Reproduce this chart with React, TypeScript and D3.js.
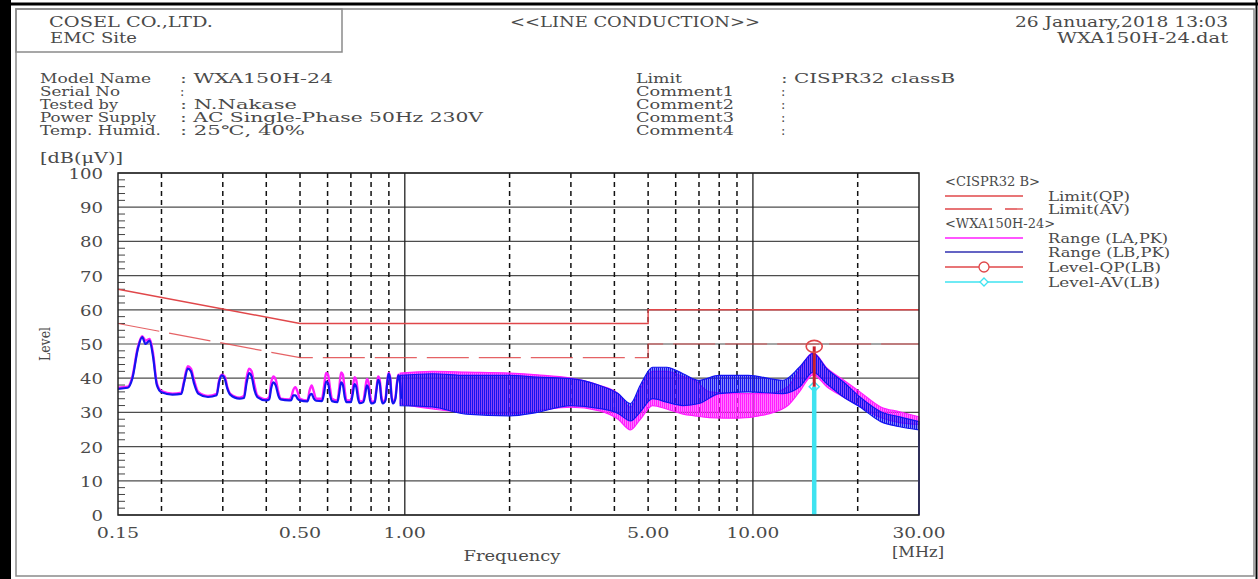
import * as d3 from "d3";

// axis ticks
const Y_TICKS = [0, 10, 20, 30, 40, 50, 60, 70, 80, 90, 100];
const X_TICK_VALUES = [0.15, 0.5, 1, 5, 10, 30];
const X_TICK_LABELS = ["0.15", "0.50", "1.00", "5.00", "10.00", "30.00"];
const DASHED_GRID = [0.2, 0.3, 0.4, 0.5, 0.6, 0.7, 0.8, 0.9, 2, 3, 4, 5, 6, 7, 8, 9, 20];
const SOLID_GRID = [1, 10];

// CISPR32 class B limits
const LIMIT_QP_F = [0.15, 0.5, 5, 5, 30];
const LIMIT_QP_V = [66, 56, 56, 60, 60];
const LIMIT_AV_F = [0.15, 0.5, 5, 5, 30];
const LIMIT_AV_V = [56, 46, 46, 50, 50];

// low band traces (harmonic bumps), shared frequency points
const TRACE_F = [
  0.15, 0.16, 0.165, 0.171, 0.176, 0.18, 0.185, 0.189, 0.194, 0.2, 0.215, 0.228,
  0.232, 0.238, 0.243, 0.248, 0.255,
  0.272, 0.288,
  0.293, 0.298, 0.304, 0.309, 0.315,
  0.335, 0.345,
  0.351, 0.357, 0.363, 0.37, 0.377,
  0.4, 0.408,
  0.413, 0.419, 0.426, 0.433, 0.44,
  0.465, 0.472,
  0.478, 0.485, 0.492, 0.5,
  0.525,
  0.533, 0.54, 0.548, 0.556,
  0.578, 0.586, 0.594, 0.602, 0.61, 0.618,
  0.64, 0.648, 0.656, 0.664, 0.672, 0.68,
  0.7, 0.709, 0.717, 0.725, 0.734, 0.742,
  0.76, 0.769, 0.778, 0.786, 0.795, 0.804,
  0.82, 0.829, 0.838, 0.847, 0.856, 0.865,
  0.88, 0.889, 0.898, 0.907, 0.916, 0.925,
  0.94, 0.949, 0.958, 0.967, 0.976,
];
const LB_TRACE_V = [
  36.9, 37.2, 40, 48.5, 52, 50, 51, 46.5, 38, 35.9, 35.2, 35.4,
  38.5, 42.8, 42, 38.5, 35.5,
  34.5, 35,
  39, 40.8, 39.8, 37, 35.2,
  34, 34.2,
  38.5, 41.5, 40.5, 36.5, 34.5,
  33.5, 33.8,
  37, 38.8, 37.8, 35, 33.8,
  33.5, 33.6,
  35, 35, 34, 33.5,
  33.2,
  35, 35.4, 34, 33.4,
  33.3, 35.5, 39, 38.5, 35, 33.3,
  33, 35.5, 38.8, 38, 34.5, 33,
  33, 35.5, 38.3, 37.5, 34, 32.7,
  33, 35, 37.9, 37, 33.5, 32.6,
  33, 36.5, 39.5, 38.5, 34, 32.6,
  33.5, 38, 41.3, 40, 34.5, 32.6,
  34, 38, 40.8, 39.5, 34,
];
const LA_TRACE_V = [
  37.2, 37.5, 40.5, 49, 52.3, 51, 51.5, 47.5, 38.5, 36.2, 35.5, 35.8,
  39, 43.5, 42.8, 39.5, 36,
  34.8, 35.4,
  39.5, 41, 40.5, 37.5, 35.5,
  34.3, 34.8,
  40, 42.8, 42, 38, 35,
  33.8, 34.5,
  38.5, 40.5, 39.5, 36, 34,
  33.8, 34.5,
  36.5, 37.4, 36, 34,
  33.5,
  36.5, 37.9, 36, 34,
  34, 37.5, 41.5, 41, 37, 34,
  33.5, 37, 41.7, 41, 36.5, 33.5,
  33.5, 37, 40.3, 39.5, 35.5, 33.2,
  33.5, 36.5, 39.8, 39, 35, 33,
  33.5, 37, 40.5, 39.5, 35, 33,
  34, 38.5, 41.5, 40.5, 35, 33,
  34.5, 38.5, 41, 40, 34.5,
];

// high band noise envelopes (lower / upper)
const LB_BAND_F = [0.97, 1.2, 1.5, 2.0, 2.4, 3.0, 3.6, 4.1, 4.45, 4.75, 5.15, 5.65, 6.3, 7.0, 8.0, 9.7, 12.2, 13.6, 14.9, 16.3, 18.2, 20.3, 23.3, 26.4, 30];
const LB_BAND_LO = [32, 31.6, 29.5, 29, 30, 32, 31.2, 29.7, 27.5, 30.2, 34, 33, 32, 32.6, 35.5, 36, 35.5, 37.4, 41.8, 38.4, 34.5, 31.6, 27.3, 25.8, 24.9];
const LB_BAND_HI = [40.8, 41.3, 40.8, 40.8, 40.3, 39.9, 38, 35.5, 32.6, 38, 43.2, 43.2, 41.3, 39.4, 40.8, 40.8, 39.4, 43.2, 47.3, 42.8, 38.9, 34.5, 30.2, 28.7, 27.3];
const LA_BAND_F = [0.97, 1.2, 1.5, 2.0, 2.4, 3.0, 3.6, 4.1, 4.45, 4.75, 5.15, 5.65, 6.3, 6.8, 7.5, 9.0, 11.0, 12.6, 13.6, 14.9, 16.3, 18.2, 20.3, 23.3, 26.4, 30];
const LA_BAND_LO = [32.5, 31, 30, 29.5, 30.5, 31.5, 30.5, 28, 24.9, 28, 32, 31, 29.5, 29, 28.5, 28.3, 29.5, 32, 36, 41, 37.5, 34.5, 31.8, 28.5, 27, 26.5];
const LA_BAND_HI = [41.5, 42, 41.8, 41.5, 41, 40, 38, 35.5, 31.5, 37, 42, 42, 40.5, 39.4, 36, 35.5, 35.5, 37.5, 42.5, 47.5, 43, 39.5, 36, 31.6, 30.2, 28.7];

// final measurement
const QP_F = [15.0];
const QP_V = [49.3];
const AV_F = [15.0];
const AV_V = [37.5];

const INFO_LABELS = ["Model Name", "Serial No", "Tested by", "Power Supply", "Temp. Humid."];
const INFO_VALUES = [": WXA150H-24", ":", ": N.Nakase", ": AC Single-Phase 50Hz 230V", ": 25\u2103, 40%"];
const INFO_LABEL_W = [111, 80, 78, 116, 121];
const INFO_VALUE_W = [153, 0, 117, 303, 125];
const COMMENT_LABELS = ["Limit", "Comment1", "Comment2", "Comment3", "Comment4"];
const COMMENT_VALUES = [": CISPR32 classB", ":", ":", ":", ":"];

const FONT = "'DejaVu Serif', 'Liberation Serif', serif";
const INK = "#4a4a4a";
const BLUE = "#1414f0";
const MAGENTA = "#ff1eff";
const LIMIT_RED = "#e0474a";
const CYAN = "#3fe3f0";

function T({ x, y, w, anchor = "start", size = 13, children, rotate }: any) {
  return (
    <text
      x={x}
      y={y}
      textAnchor={anchor}
      dominantBaseline="central"
      fontFamily={FONT}
      fontSize={size}
      fill={INK}
      textLength={w || undefined}
      lengthAdjust={w ? "spacingAndGlyphs" : undefined}
      transform={rotate ? `rotate(${rotate},${x},${y})` : undefined}
    >
      {children}
    </text>
  );
}

export default function App() {
  const W = 1258;
  const H = 579;
  const left = 118, right = 919, top = 173, bottom = 515;

  const x = d3.scaleLog().domain([0.15, 30]).range([left, right]);
  const y = d3.scaleLinear().domain([0, 100]).range([bottom, top]);

  const lineOf = (F: number[], V: number[], curve: any = d3.curveLinear) =>
    d3.line<number>().x((_d, i) => x(F[i])).y((d) => y(d)).curve(curve)(V) || "";
  const areaOf = (F: number[], LO: number[], HI: number[]) =>
    d3
      .area<number>()
      .x((_d, i) => x(F[i]))
      .y0((d) => y(d))
      .y1((_d, i) => y(HI[i]))
      .curve(d3.curveMonotoneX)(LO) || "";

  const minor = d3.range(0, 101, 2).filter((v) => v % 10 !== 0);
  const infoY = [78, 91, 104, 117, 130];
  const legendY = [181, 196, 209, 223, 238, 252, 267, 282];
  const lx0 = 945, lx1 = 1023, ltx = 1048;

  return (
    <svg width={W} height={H} style={{ position: "absolute", left: 0, top: 0, background: "#fff" }}>
      <defs>
        <pattern id="blueStripe" width={2} height={12} patternUnits="userSpaceOnUse">
          <rect x={0} y={0} width={1.5} height={12} fill={BLUE} />
        </pattern>
        <pattern id="magStripe" width={2} height={12} patternUnits="userSpaceOnUse">
          <rect x={0} y={0} width={1.6} height={12} fill={MAGENTA} />
        </pattern>
      </defs>

      {/* frame */}
      <rect x={0} y={0} width={W} height={H} fill="#fff" />
      <rect x={0} y={0} width={11} height={H} fill="#000" />
      <line x1={0} x2={W} y1={4} y2={4} stroke="#000" strokeWidth={3} />
      <line x1={1256.5} x2={1256.5} y1={0} y2={H} stroke="#000" strokeWidth={2} />
      <rect x={16} y={9} width={1238} height={567} fill="none" stroke="#8a8a8a" strokeWidth={1.5} />
      <rect x={16} y={9} width={326} height={43} fill="none" stroke="#8a8a8a" strokeWidth={1.5} />

      {/* header */}
      <T x={49} y={22} w={164} size={14}>COSEL CO.,LTD.</T>
      <T x={50} y={38} w={87} size={14}>EMC Site</T>
      <T x={635} y={22} w={250} anchor="middle" size={14}>{"<<LINE CONDUCTION>>"}</T>
      <T x={1228} y={22} w={213} anchor="end" size={14}>26 January,2018 13:03</T>
      <T x={1228} y={38} w={171} anchor="end" size={14}>WXA150H-24.dat</T>

      {INFO_LABELS.map((s, i) => (
        <T key={s} x={40} y={infoY[i]} w={INFO_LABEL_W[i]}>{s}</T>
      ))}
      {INFO_VALUES.map((s, i) => (
        <T key={i} x={180} y={infoY[i]} w={INFO_VALUE_W[i]}>{s}</T>
      ))}
      {COMMENT_LABELS.map((s, i) => (
        <T key={s} x={636} y={infoY[i]} w={i === 0 ? 46 : 98}>{s}</T>
      ))}
      {COMMENT_VALUES.map((s, i) => (
        <T key={i} x={781} y={infoY[i]} w={i === 0 ? 174 : 0}>{s}</T>
      ))}

      {/* y unit + label */}
      <T x={40} y={158} w={83} size={14}>[dB(μV)]</T>
      <T x={45} y={344} w={34} anchor="middle" size={14} rotate={-90}>Level</T>

      {/* grid */}
      {Y_TICKS.map((v) => (
        <line key={v} x1={left} x2={right} y1={y(v)} y2={y(v)} stroke="#4d4d4d" strokeWidth={1.2} />
      ))}
      {DASHED_GRID.map((f) => (
        <line key={f} x1={x(f)} x2={x(f)} y1={top} y2={bottom} stroke="#111" strokeWidth={1.5} strokeDasharray="5,4" />
      ))}
      {SOLID_GRID.map((f) => (
        <line key={f} x1={x(f)} x2={x(f)} y1={top} y2={bottom} stroke="#222" strokeWidth={1.3} />
      ))}
      {minor.map((v) => (
        <line key={v} x1={left} x2={left + 7} y1={y(v)} y2={y(v)} stroke="#444" strokeWidth={1} />
      ))}

      {/* limits */}
      <path d={lineOf(LIMIT_QP_F, LIMIT_QP_V)} fill="none" stroke={LIMIT_RED} strokeWidth={1.4} />
      <path d={lineOf(LIMIT_AV_F, LIMIT_AV_V)} fill="none" stroke={LIMIT_RED} strokeWidth={1.2} strokeDasharray="42,10" opacity={0.85} />

      {/* traces: LA (magenta) under LB (blue) */}
      <path d={areaOf(LA_BAND_F, LA_BAND_LO, LA_BAND_HI)} fill="url(#magStripe)" stroke={MAGENTA} strokeWidth={1.2} />
      <path d={lineOf(TRACE_F, LA_TRACE_V, d3.curveMonotoneX)} fill="none" stroke={MAGENTA} strokeWidth={2.4} strokeLinejoin="round" />
      <path d={areaOf(LB_BAND_F, LB_BAND_LO, LB_BAND_HI)} fill="url(#blueStripe)" stroke={BLUE} strokeWidth={1.2} />
      <path d={lineOf(TRACE_F, LB_TRACE_V, d3.curveMonotoneX)} fill="none" stroke={BLUE} strokeWidth={2.2} strokeLinejoin="round" />
      <line
        x1={x(LB_BAND_F[LB_BAND_F.length - 1])}
        x2={x(LB_BAND_F[LB_BAND_F.length - 1])}
        y1={y(LB_BAND_LO[LB_BAND_LO.length - 1])}
        y2={y(0)}
        stroke="#5a5aff"
        strokeWidth={2}
      />

      {/* QP / AV markers */}
      {AV_F.map((f, i) => (
        <g key={"av" + i}>
          <line x1={x(f)} x2={x(f)} y1={y(AV_V[i])} y2={y(0)} stroke={CYAN} strokeWidth={4.5} />
          <path d={`M${x(f)},${y(AV_V[i]) - 5} l5,5 l-5,5 l-5,-5 z`} fill="none" stroke={CYAN} strokeWidth={1.5} />
        </g>
      ))}
      {QP_F.map((f, i) => (
        <g key={"qp" + i}>
          <line x1={x(f)} x2={x(f)} y1={y(QP_V[i])} y2={y(AV_V[i])} stroke="#c8202a" strokeWidth={3} />
          <ellipse cx={x(f)} cy={y(QP_V[i])} rx={8} ry={6} fill="none" stroke={LIMIT_RED} strokeWidth={1.6} />
        </g>
      ))}

      {/* plot border */}
      <rect x={left} y={top} width={right - left} height={bottom - top} fill="none" stroke="#222" strokeWidth={1.5} />

      {/* tick labels */}
      {Y_TICKS.map((v) => (
        <T key={v} x={103} y={y(v) + 1} anchor="end" size={14} w={String(v).length * 11.5}>{v}</T>
      ))}
      {X_TICK_VALUES.map((f, i) => (
        <T key={f} x={x(f)} y={533} anchor="middle" size={14} w={X_TICK_LABELS[i].length * 10.6}>{X_TICK_LABELS[i]}</T>
      ))}
      <T x={512} y={556} anchor="middle" size={14} w={97}>Frequency</T>
      <T x={918} y={552} anchor="middle" size={14} w={52}>[MHz]</T>

      {/* legend */}
      <T x={lx0} y={legendY[0]} w={95}>{"<CISPR32 B>"}</T>
      <line x1={lx0} x2={lx1} y1={legendY[1]} y2={legendY[1]} stroke={LIMIT_RED} strokeWidth={1.3} />
      <T x={ltx} y={legendY[1]} w={82}>Limit(QP)</T>
      <line x1={lx0} x2={lx1} y1={legendY[2]} y2={legendY[2]} stroke={LIMIT_RED} strokeWidth={1.3} strokeDasharray="47,13" />
      <T x={ltx} y={legendY[2]} w={82}>Limit(AV)</T>
      <T x={lx0} y={legendY[3]} w={110}>{"<WXA150H-24>"}</T>
      <line x1={lx0} x2={lx1} y1={legendY[4]} y2={legendY[4]} stroke={MAGENTA} strokeWidth={1.3} />
      <T x={ltx} y={legendY[4]} w={120}>Range (LA,PK)</T>
      <line x1={lx0} x2={lx1} y1={legendY[5]} y2={legendY[5]} stroke="#3030b0" strokeWidth={1.3} />
      <T x={ltx} y={legendY[5]} w={122}>Range (LB,PK)</T>
      <line x1={lx0} x2={lx1} y1={legendY[6]} y2={legendY[6]} stroke={LIMIT_RED} strokeWidth={1.3} />
      <circle cx={(lx0 + lx1) / 2} cy={legendY[6]} r={5} fill="#fff" stroke={LIMIT_RED} strokeWidth={1.3} />
      <T x={ltx} y={legendY[6]} w={113}>Level-QP(LB)</T>
      <line x1={lx0} x2={lx1} y1={legendY[7]} y2={legendY[7]} stroke={CYAN} strokeWidth={1.3} />
      <path d={`M${(lx0 + lx1) / 2},${legendY[7] - 4} l4,4 l-4,4 l-4,-4 z`} fill="#fff" stroke={CYAN} strokeWidth={1.3} />
      <T x={ltx} y={legendY[7]} w={112}>Level-AV(LB)</T>
    </svg>
  );
}
